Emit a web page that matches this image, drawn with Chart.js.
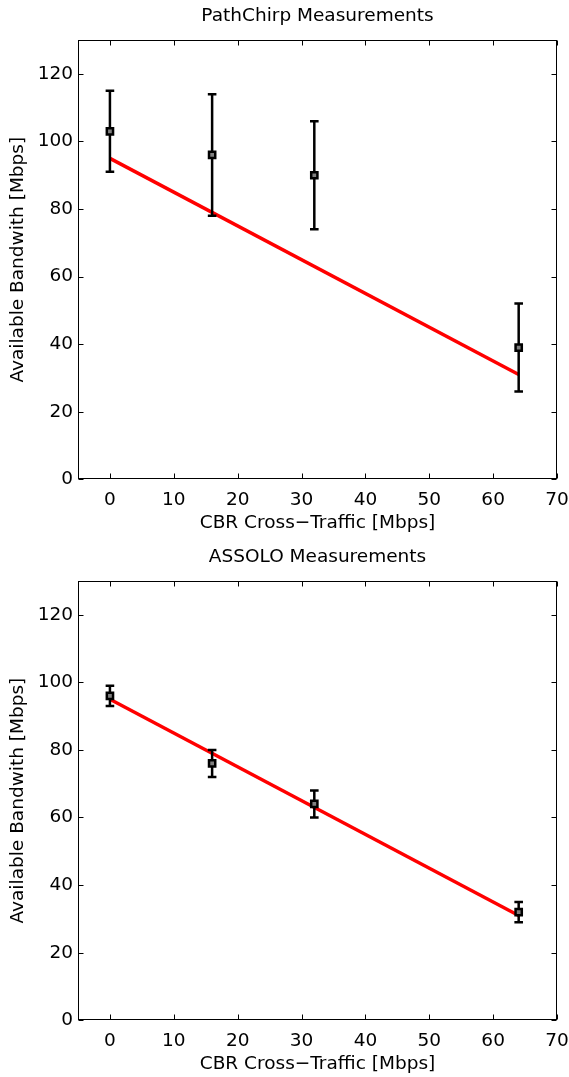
<!DOCTYPE html>
<html>
<head>
<meta charset="utf-8">
<script src="https://cdn.jsdelivr.net/npm/chart.js@4.4.1/dist/chart.umd.min.js"></script>
<style>
  html, body { margin: 0; padding: 0; background: #fff; }
  canvas { display: block; }
</style>
</head>
<body>
<canvas id="pathchirp" width="569" height="538"></canvas>
<canvas id="assolo" width="569" height="539"></canvas>
<script>
// CBR cross-traffic rates (Mbps)
const crossTraffic = [0, 16, 32, 64];

// pathChirp estimates: mean and error bar ends
const pathchirpMean = [103, 96, 90, 39];
const pathchirpLow = [91, 78, 74, 26];
const pathchirpHigh = [115, 114, 106, 52];

// ASSOLO estimates
const assoloMean = [96, 76, 64, 32];
const assoloLow = [93, 72, 60, 29];
const assoloHigh = [99, 80, 68, 35];

// expected available bandwidth (95 - cross traffic)
const fitX = [0, 64];
const fitY = [95, 31];

const xTicks = [0, 10, 20, 30, 40, 50, 60, 70];
const yTicks = [0, 20, 40, 60, 80, 100, 120];

Chart.defaults.font.family = "'DejaVu Sans', sans-serif";
Chart.defaults.font.size = 18.5;
Chart.defaults.color = '#000';

// box around the plot with inward ticks on all four sides
const framePlugin = {
  id: 'frame',
  afterDraw(chart) {
    const { ctx, chartArea: a, scales: { x, y } } = chart;
    const L = Math.round(a.left) + 0.5, R = Math.round(a.right) - 0.5;
    const T = Math.round(a.top) + 0.5, B = Math.round(a.bottom) - 0.5;
    ctx.save();
    ctx.strokeStyle = '#000';
    ctx.lineWidth = 1;
    ctx.strokeRect(L, T, R - L, B - T);
    ctx.beginPath();
    x.ticks.forEach(t => {
      const px = Math.round(x.getPixelForValue(t.value)) + 0.5;
      ctx.moveTo(px, B); ctx.lineTo(px, B - 5);
      ctx.moveTo(px, T); ctx.lineTo(px, T + 5);
    });
    y.ticks.forEach(t => {
      const py = Math.round(y.getPixelForValue(t.value)) + 0.5;
      ctx.moveTo(L, py); ctx.lineTo(L + 5, py);
      ctx.moveTo(R, py); ctx.lineTo(R - 5, py);
    });
    ctx.stroke();
    ctx.restore();
  }
};

// vertical error bars with caps, drawn just before the markers
function errorBarPlugin(low, high) {
  return {
    id: 'errorBars',
    beforeDatasetDraw(chart, args) {
      if (args.index !== 0) return;
      const { ctx, scales: { x, y } } = chart;
      ctx.save();
      ctx.strokeStyle = '#000';
      ctx.lineWidth = 2.5;
      ctx.beginPath();
      crossTraffic.forEach((v, i) => {
        const px = x.getPixelForValue(v);
        const y0 = y.getPixelForValue(low[i]);
        const y1 = y.getPixelForValue(high[i]);
        ctx.moveTo(px, y0); ctx.lineTo(px, y1);
        ctx.moveTo(px - 4.3, y0); ctx.lineTo(px + 4.3, y0);
        ctx.moveTo(px - 4.3, y1); ctx.lineTo(px + 4.3, y1);
      });
      ctx.stroke();
      ctx.restore();
    }
  };
}

function makeChart(id, title, mean, low, high, geo) {
  new Chart(document.getElementById(id), {
    type: 'scatter',
    data: {
      datasets: [{
        data: crossTraffic.map((x, i) => ({ x: x, y: mean[i] })),
        showLine: false,
        pointStyle: 'rect',
        pointRadius: 4.4,
        pointBorderWidth: 2.5,
        borderColor: '#000',
        backgroundColor: '#808080'
      }, {
        data: fitX.map((x, i) => ({ x: x, y: fitY[i] })),
        showLine: true,
        borderColor: '#ff0000',
        borderWidth: 3.5,
        pointRadius: 0
      }]
    },
    options: {
      responsive: false,
      animation: false,
      layout: { padding: { left: 0, right: 12, top: 0, bottom: 0 } },
      plugins: {
        legend: { display: false },
        tooltip: { enabled: false },
        title: {
          display: true,
          text: title,
          fullSize: false,
          font: { size: 18.5, weight: 'normal' },
          padding: geo.titlePad
        }
      },
      scales: {
        x: {
          type: 'linear',
          min: -5,
          max: 70,
          afterBuildTicks: s => { s.ticks = xTicks.map(v => ({ value: v })); },
          afterFit: s => {
            s.height = geo.xAxisHeight;
            // let the "70" label hang past the plot edge
            s.paddingLeft = 0;
            s.paddingRight = 0;
          },
          grid: { display: false, drawTicks: false },
          border: { display: false },
          ticks: { padding: 10, autoSkip: false, maxRotation: 0 },
          title: {
            display: true,
            text: 'CBR Cross\u2212Traffic [Mbps]',
            padding: geo.xTitlePad
          }
        },
        y: {
          min: 0,
          max: 130,
          afterBuildTicks: s => { s.ticks = yTicks.map(v => ({ value: v })); },
          afterFit: s => {
            s.width = 78;
            s.paddingTop = 0;
            s.paddingBottom = 0;
          },
          grid: { display: false, drawTicks: false },
          border: { display: false },
          ticks: { padding: 5 },
          title: {
            display: true,
            text: 'Available Bandwith [Mbps]',
            padding: { top: 7, bottom: 0 }
          }
        }
      }
    },
    plugins: [framePlugin, errorBarPlugin(low, high)]
  });
}

makeChart('pathchirp', 'PathChirp Measurements', pathchirpMean, pathchirpLow, pathchirpHigh, {
  titlePad: { top: 5.5, bottom: 12.4 },
  xAxisHeight: 58.7,
  xTitlePad: { top: 0, bottom: 4.2 }
});

makeChart('assolo', 'ASSOLO Measurements', assoloMean, assoloLow, assoloHigh, {
  titlePad: { top: 8.2, bottom: 12.5 },
  xAxisHeight: 56.7,
  xTitlePad: { top: 0, bottom: 2.2 }
});
</script>
</body>
</html>
